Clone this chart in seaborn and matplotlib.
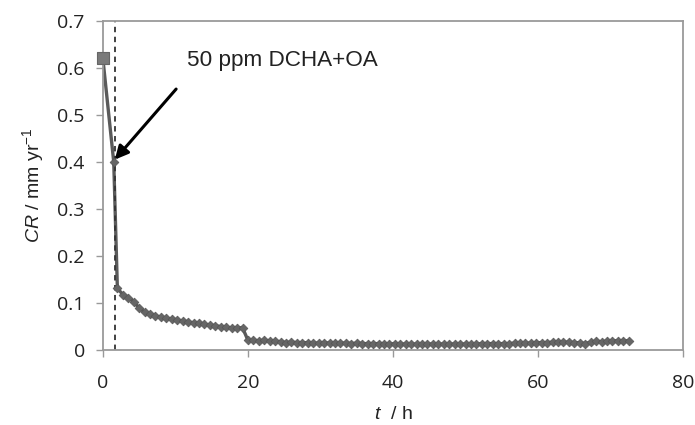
import numpy as np
import matplotlib
matplotlib.use("Agg")
import matplotlib.pyplot as plt
import pandas as pd
import seaborn as sns

# first reading (blank, t = 0)
t_start = [0.0]
cr_start = [0.62]

# readings after inhibitor injection
t_inj = [1.5]
cr_inj = [0.40]

# regular readings, every 0.75 h from t = 2 h
t_step = 0.75
cr_values = [
    0.132, 0.118, 0.112, 0.103, 0.090, 0.081, 0.077, 0.073, 0.070, 0.068,
    0.066, 0.064, 0.062, 0.060, 0.058, 0.057, 0.055, 0.053, 0.052, 0.050,
    0.049, 0.047, 0.047, 0.048, 0.021, 0.021, 0.020, 0.021, 0.020, 0.019,
    0.018, 0.016, 0.017, 0.016, 0.016, 0.016, 0.015, 0.015, 0.016, 0.015,
    0.015, 0.015, 0.015, 0.014, 0.015, 0.014, 0.014, 0.014, 0.014, 0.014,
    0.013, 0.014, 0.013, 0.013, 0.013, 0.013, 0.013, 0.013, 0.013, 0.013,
    0.013, 0.013, 0.013, 0.013, 0.013, 0.013, 0.013, 0.014, 0.014, 0.014,
    0.014, 0.014, 0.014, 0.015, 0.015, 0.015, 0.015, 0.016, 0.016, 0.016,
    0.017, 0.017, 0.017, 0.017, 0.016, 0.016, 0.014, 0.017, 0.019, 0.018,
    0.019, 0.020, 0.020, 0.020, 0.020,
]
t_values = [2.0 + t_step * i for i in range(len(cr_values))]

injection_time = 1.7
annotation = "50 ppm DCHA+OA"
x_ticks = [0, 20, 40, 60, 80]
y_ticks = [0, 0.1, 0.2, 0.3, 0.4, 0.5, 0.6, 0.7]

sns.set_style("white")
plt.rcParams['font.family'] = ['Open Sans', 'DejaVu Sans']
plt.rcParams['mathtext.fontset'] = 'custom'
plt.rcParams['mathtext.rm'] = 'Liberation Sans'
plt.rcParams['mathtext.it'] = 'Liberation Sans:italic'

line_df = pd.DataFrame({
    't': t_start + t_inj + t_values,
    'CR': cr_start + cr_inj + cr_values,
})
pts_df = pd.DataFrame({'t': t_inj + t_values, 'CR': cr_inj + cr_values})

fig = plt.figure(figsize=(6.95, 4.25), dpi=100)
ax = fig.add_axes([0.148, 0.176, 0.835, 0.775])

sns.lineplot(data=line_df, x='t', y='CR', ax=ax, color='#5a5a5a', linewidth=2.4,
             sort=False, estimator=None)
sns.scatterplot(data=pts_df, x='t', y='CR', ax=ax, marker='D', s=20,
                color='#666666', edgecolor='#555555', linewidth=0.5, zorder=3)
sns.scatterplot(x=t_start, y=cr_start, ax=ax, marker='s', s=80,
                color='#7a7a7a', edgecolor='#666666', linewidth=0.8, zorder=4,
                clip_on=False)

ax.axvline(injection_time, color='#333333', linestyle=(0, (3, 2.5)), linewidth=1.3)

ax.annotate('', xy=(1.65, 0.405), xytext=(10.1, 0.555),
            arrowprops=dict(arrowstyle='-|>', color='black', lw=2.2,
                            mutation_scale=20, shrinkA=0, shrinkB=0))
ax.text(11.55, 0.616, annotation, fontsize=16.2, family='Liberation Sans',
        color='#222222', va='center', ha='left')

ax.set_xlim(0, 80)
ax.set_ylim(0, 0.7)
ax.set_xticks(x_ticks)
ax.set_yticks(y_ticks)
ax.set_yticklabels(['0'] + [f'{v:.1f}' for v in y_ticks[1:]])
ax.tick_params(axis='both', direction='out', length=5, width=1, color='#999999',
               labelsize=14, labelcolor='#222222', bottom=True, left=True)
ax.tick_params(axis='x', pad=12)
ax.tick_params(axis='y', pad=8)

for sp in ax.spines.values():
    sp.set_visible(True)
    sp.set_color('#9a9a9a')
    sp.set_linewidth(1.3)

ax.set_ylabel(r'$CR$ / mm yr$^{-1}$', fontsize=14, family='Liberation Sans',
              color='#222222', labelpad=8)
ax.set_xlabel(r'$t$  / h', fontsize=14, family='Liberation Sans',
              color='#222222', labelpad=10)

fig.savefig('out.png', dpi=100)
